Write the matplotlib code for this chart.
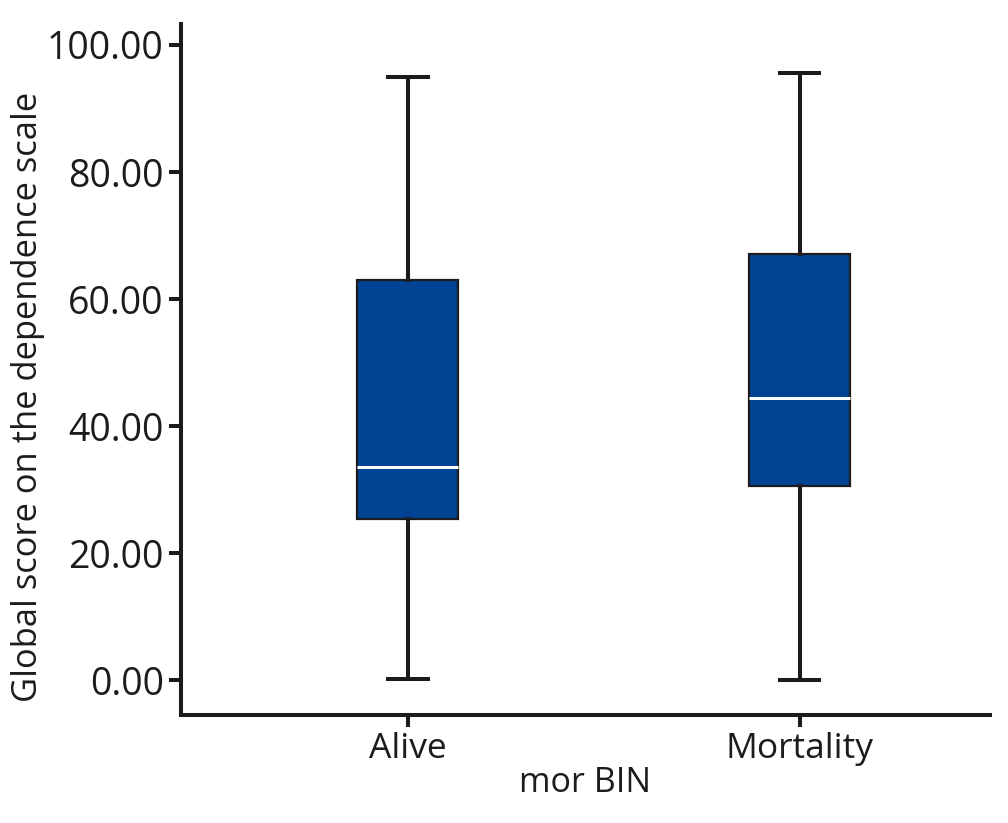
import matplotlib
matplotlib.use("Agg")
import matplotlib.pyplot as plt

categories = ["Alive", "Mortality"]
whislo = [0.2, 0.0]
q1 = [25.4, 30.6]
med = [33.5, 44.4]
q3 = [63.0, 67.1]
whishi = [95.0, 95.6]
yticks = [0, 20, 40, 60, 80, 100]

plt.rcParams['font.family'] = ['Open Sans', 'DejaVu Sans']
dark = '#1c1c1e'
fig = plt.figure(figsize=(10.08, 8.23), dpi=100)
ax = fig.add_axes([0.1796, 0.1312, 0.8024, 0.8396])

stats = [dict(label=c, whislo=a, q1=b, med=m, q3=d, whishi=e, fliers=[])
         for c, a, b, m, d, e in zip(categories, whislo, q1, med, q3, whishi)]
ax.bxp(stats, positions=[1, 2], widths=0.258, patch_artist=True, showcaps=True,
       boxprops=dict(facecolor='#004393', edgecolor=dark, linewidth=1.6),
       medianprops=dict(color='white', linewidth=2.2),
       whiskerprops=dict(color=dark, linewidth=2.9),
       capprops=dict(color=dark, linewidth=2.9),
       capwidths=0.1)

ax.set_xlim(0.421, 2.485)
ax.set_ylim(-5.5, 103.3)
ax.set_yticks(yticks)
ax.set_yticklabels([f"{v:.2f}" for v in yticks])
ax.set_xticks([1, 2])
ax.set_xticklabels(categories)
for s in ['top', 'right']:
    ax.spines[s].set_visible(False)
for s in ['left', 'bottom']:
    ax.spines[s].set_linewidth(2.9)
    ax.spines[s].set_color(dark)
ax.tick_params(axis='both', length=8.5, width=2.9, color=dark, labelcolor=dark, pad=4)
ax.tick_params(axis='y', labelsize=27)
ax.tick_params(axis='x', labelsize=25.5)
ax.set_ylabel("Global score on the dependence scale", fontsize=24.8, color=dark)
ax.yaxis.set_label_coords(-0.168, 0.46)
ax.set_xlabel("mor BIN", fontsize=24.5, color=dark, labelpad=0)
fig.savefig("out.png", dpi=100)
